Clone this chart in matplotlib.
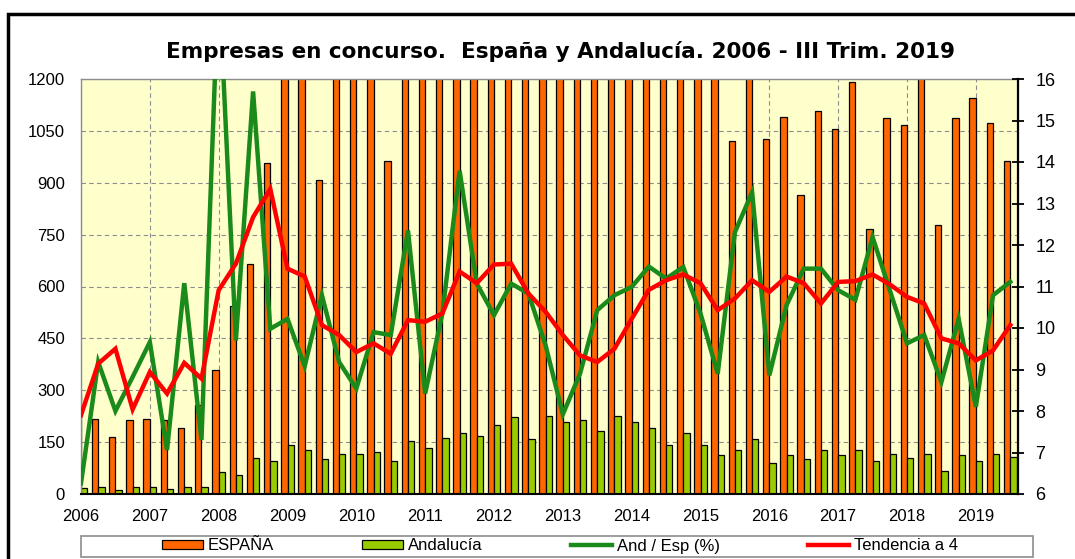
import numpy as np
import matplotlib
matplotlib.use("Agg")
import matplotlib.pyplot as plt
from matplotlib.patches import Rectangle

# ---------------- data ----------------
years = [str(y) for y in range(2006, 2020)]
espana = [288, 218, 164, 214, 218, 214, 191, 257, 360, 543, 666, 956, 1380, 1399,
          908, 1279, 1375, 1232, 962, 1247, 1568, 1571, 1284, 1512, 1940, 2014, 1466,
          2359, 2636, 2400, 1745, 2095, 1900, 1659, 1264, 1543, 1367, 1265, 1022, 1210,
          1026, 1089, 866, 1108, 1054, 1190, 765, 1086, 1068, 1205, 779, 1086, 1145,
          1073, 962]
andalucia = [18, 20, 13, 19, 21, 14, 21, 19, 63, 55, 105, 95, 141, 127, 100, 117, 117,
             122, 95, 154, 132, 163, 177, 167, 200, 223, 159, 226, 209, 214, 182, 226,
             209, 191, 142, 177, 142, 113, 127, 159, 91, 113, 100, 127, 113, 127, 95,
             117, 105, 117, 67, 113, 95, 117, 108]
ratio = [6.26, 9.18, 8.0, 8.82, 9.66, 7.06, 11.08, 7.3, 18.5, 9.7, 15.7, 9.98, 10.22,
         9.08, 10.79, 9.18, 8.54, 9.9, 9.83, 12.35, 8.42, 10.35, 13.79, 11.07, 10.31,
         11.07, 10.83, 9.58, 7.92, 8.9, 10.43, 10.79, 10.99, 11.48, 11.19, 11.47, 10.35,
         8.9, 12.31, 13.27, 8.86, 10.55, 11.43, 11.43, 10.91, 10.68, 12.19, 10.91, 9.63,
         9.83, 8.7, 10.22, 8.1, 10.79, 11.11]
tendencia = [7.9, 9.14, 9.5, 8.04, 8.94, 8.42, 9.16, 8.78, 10.91, 11.55, 12.67, 13.35,
             11.43, 11.24, 10.07, 9.83, 9.42, 9.63, 9.38, 10.19, 10.15, 10.35, 11.36,
             11.08, 11.53, 11.55, 10.83, 10.39, 9.83, 9.34, 9.18, 9.5, 10.22, 10.92,
             11.15, 11.29, 11.08, 10.43, 10.71, 11.15, 10.87, 11.24, 11.08, 10.59, 11.11,
             11.13, 11.29, 11.05, 10.75, 10.59, 9.75, 9.63, 9.22, 9.46, 10.07]
left_ticks = list(range(0, 1201, 150))
right_ticks = list(range(6, 17))

# ---------------- figure ----------------
plt.rcParams['font.family'] = ['Liberation Sans', 'DejaVu Sans']
W, H = 1075, 559
fig = plt.figure(figsize=(W / 100, H / 100), dpi=100)
fig.patch.set_facecolor('white')

ax = fig.add_axes([81 / W, 65 / H, (1018 - 81) / W, (494 - 79) / H])
ax.set_facecolor('#FFFFCC')
x = np.arange(len(espana))
bw = 0.37
ax.bar(x, espana, width=-bw, align='edge', color='#FF6600', edgecolor='black',
       linewidth=0.9, label='ESPAÑA', zorder=2)
ax.bar(x, andalucia, width=bw, align='edge', color='#99CC00', edgecolor='black',
       linewidth=0.9, label='Andalucía', zorder=2)
ax.set_ylim(0, 1200)
ax.set_xlim(0, len(espana) - 0.55)
ax.set_yticks(left_ticks)
ax.set_xticks(np.arange(0, len(espana), 4))
ax.set_xticklabels(years)
ax.tick_params(axis='both', length=0, labelsize=12)
ax.tick_params(axis='y', pad=11.5)
ax.tick_params(axis='x', pad=10.5)
ax.set_axisbelow(True)
ax.grid(True, color='#8C8C8C', linestyle=(0, (4, 3)), linewidth=0.8)
for s in ['left', 'top']:
    ax.spines[s].set_color('#8C8C8C')
    ax.spines[s].set_linewidth(1.0)
ax.spines['bottom'].set_color('black')
ax.spines['bottom'].set_linewidth(1.5)
ax.spines['right'].set_visible(False)

ax2 = ax.twinx()
l1, = ax2.plot(x, ratio, color='#1A8A1A', linewidth=3.2, label='And / Esp (%)',
               solid_joinstyle='miter', zorder=3)
l2, = ax2.plot(x, tendencia, color='#FF0000', linewidth=3.2, label='Tendencia a 4',
               solid_joinstyle='miter', zorder=4)
ax2.set_ylim(6, 16)
ax2.set_yticks(right_ticks)
ax2.tick_params(axis='y', direction='inout', length=9, width=1.3, labelsize=13, pad=8)
ax2.spines['right'].set_color('black')
ax2.spines['right'].set_linewidth(1.6)
for s in ['left', 'top', 'bottom']:
    ax2.spines[s].set_visible(False)

# title
fig.text(560 / W, 1 - 51 / H,
         'Empresas en concurso.  España y Andalucía. 2006 - III Trim. 2019',
         ha='center', va='center', fontsize=15.5, fontweight='bold',
         family=['DejaVu Sans'])

# legend (frame drawn separately)
h1, lab1 = ax.get_legend_handles_labels()
handles = h1 + [l1, l2]
labels = lab1 + ['And / Esp (%)', 'Tendencia a 4']
leg = fig.legend(handles, labels, loc='center',
                 bbox_to_anchor=(560 / W, 1 - 546 / H),
                 ncol=4, frameon=False, fontsize=12, handlelength=2.45,
                 handleheight=0.5, handletextpad=0.3, borderaxespad=0,
                 borderpad=0.1, columnspacing=5.3)
fig.patches.append(Rectangle((81 / W, 1 - 556.7 / H), (1033 - 81) / W, 21 / H,
                             transform=fig.transFigure, fill=False,
                             edgecolor='#8C8C8C', linewidth=1.2))

# outer chart frame
fig.patches.append(Rectangle((8 / W, -0.05), 1.1, 1 - 14 / H + 0.05,
                             transform=fig.transFigure, fill=False,
                             edgecolor='black', linewidth=2.5))

fig.savefig('out.png', dpi=100)
